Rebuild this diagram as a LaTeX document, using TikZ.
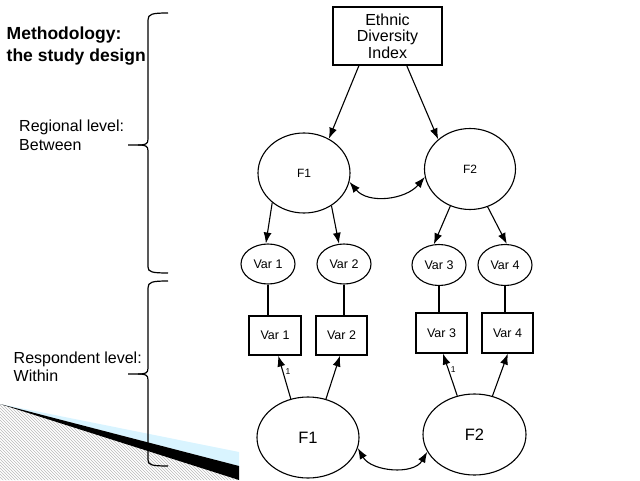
\documentclass[tikz,border=0pt]{standalone}
\usepackage{fontspec}
\setmainfont{Liberation Sans}
\usetikzlibrary{arrows.meta,shapes.geometric,patterns}
\begin{document}
\begin{tikzpicture}[x=1pt,y=1pt,
  ln/.style={line width=1.1pt},
  lat/.style={ellipse,draw,line width=1.1pt,inner sep=0pt},
  obs/.style={rectangle,draw,line width=1.1pt,inner sep=0pt},
  arr/.style={-{Latex[length=11pt,width=8pt]},line width=1.1pt},
  dbl/.style={{Latex[length=11pt,width=8pt]}-{Latex[length=11pt,width=8pt]},line width=1.1pt},
  brace/.style={line width=1.2pt},
  sidetxt/.style={anchor=north west,align=left,inner sep=0pt,font=\fontsize{16}{18.5}\selectfont}]
\useasboundingbox (0,0) rectangle (640,480);
% decoration bottom left
\fill[pattern=north west lines,pattern color=gray!55] (0,76) -- (239,0) -- (0,0) -- cycle;
\fill[blue!30!cyan!15] (0,76) -- (239,28) -- (239,14) -- cycle;
\fill[black] (0,76) -- (239,14) -- (239,0) -- cycle;
% braces
\draw[brace] (168,467) .. controls (152,467) and (148,466) .. (148,460) -- (148,341)
  .. controls (148,336) and (146,335) .. (138,335) -- (128,335);
\draw[brace] (138,335) .. controls (146,335) and (148,334) .. (148,329) -- (148,213)
  .. controls (148,208) and (152,207) .. (168,207);
\draw[brace] (168,199) .. controls (152,199) and (148,198) .. (148,192) -- (148,112)
  .. controls (148,107) and (146,106) .. (138,106) -- (128,106);
\draw[brace] (138,106) .. controls (146,106) and (148,105) .. (148,100) -- (148,20)
  .. controls (148,15) and (152,14) .. (168,14);
% side texts
\node[anchor=north west,align=left,inner sep=0pt,font=\bfseries\fontsize{17.5}{22}\selectfont] (title) at (6.5,453) {Methodology:\\the study design};
\node[sidetxt] (reg) at (19,360) {Regional level:\\Between};
\node[sidetxt] (resp) at (13.5,128.5) {Respondent level:\\Within};
% nodes
\node[obs,minimum width=109pt,minimum height=58pt,align=center,font=\fontsize{16}{16.7}\selectfont] (edi) at (387.5,444) {Ethnic\\Diversity\\Index};
\node[lat,minimum width=92pt,minimum height=80pt,font=\fontsize{12}{13}\selectfont] (F1t) at (304,307) {F1};
\node[lat,minimum width=91pt,minimum height=81pt,font=\fontsize{12}{13}\selectfont] (F2t) at (470,311) {F2};
\node[lat,minimum width=54pt,minimum height=40pt,font=\fontsize{12.5}{14}\selectfont] (v1e) at (268,216) {Var 1};
\node[lat,minimum width=54pt,minimum height=40pt,font=\fontsize{12.5}{14}\selectfont] (v2e) at (344,216) {Var 2};
\node[lat,minimum width=54pt,minimum height=41pt,font=\fontsize{12.5}{14}\selectfont] (v3e) at (439,215) {Var 3};
\node[lat,minimum width=54pt,minimum height=41pt,font=\fontsize{12.5}{14}\selectfont] (v4e) at (505,215) {Var 4};
\node[obs,minimum width=52pt,minimum height=39pt,font=\fontsize{12.5}{14}\selectfont] (v1b) at (275,144.5) {Var 1};
\node[obs,minimum width=51pt,minimum height=39pt,font=\fontsize{12.5}{14}\selectfont] (v2b) at (341.5,144.5) {Var 2};
\node[obs,minimum width=51pt,minimum height=40pt,font=\fontsize{12.5}{14}\selectfont] (v3b) at (441.5,147) {Var 3};
\node[obs,minimum width=51pt,minimum height=40pt,font=\fontsize{12.5}{14}\selectfont] (v4b) at (507.5,147) {Var 4};
\node[lat,minimum width=102pt,minimum height=81pt,font=\fontsize{16.5}{18}\selectfont] (F1b) at (308,42.5) {F1};
\node[lat,minimum width=103pt,minimum height=81pt,font=\fontsize{16.5}{18}\selectfont] (F2b) at (474.5,45.5) {F2};
% connectors
\draw[arr] (edi.-134) -- (F1t.54);
\draw[arr] (edi.-57) -- (F2t.137);
\draw[dbl] (F1t.-11) to[out=-50,in=-130] (F2t.-170);
\draw[arr] (F1t.-137) -- (v1e.96);
\draw[arr] (F1t.-50) -- (v2e.104);
\draw[arr] (F2t.-118) -- (v3e.104);
\draw[arr] (F2t.-65) -- (v4e.85);
\draw[ln] (v1e.south) -- (v1e.south |- v1b.north);
\draw[ln] (v2e.south) -- (v2e.south |- v2b.north);
\draw[ln] (v3e.south) -- (v3e.south |- v3b.north);
\draw[ln] (v4e.south) -- (v4e.south |- v4b.north);
\draw[arr] (F1b.114) -- node[pos=0.62,right=2pt,inner sep=0pt,font=\fontsize{8.5}{9}\selectfont] (one1) {1} (v1b.-81);
\draw[arr] (F1b.65) -- (v2b.-94);
\draw[arr] (F2b.114) -- node[pos=0.62,right=2pt,inner sep=0pt,font=\fontsize{8.5}{9}\selectfont] (one2) {1} (v3b.-86);
\draw[arr] (F2b.65) -- (v4b.-89);
\draw[dbl] (F1b.-12) to[out=-60,in=-120] (F2b.-160);
\end{tikzpicture}
\end{document}
